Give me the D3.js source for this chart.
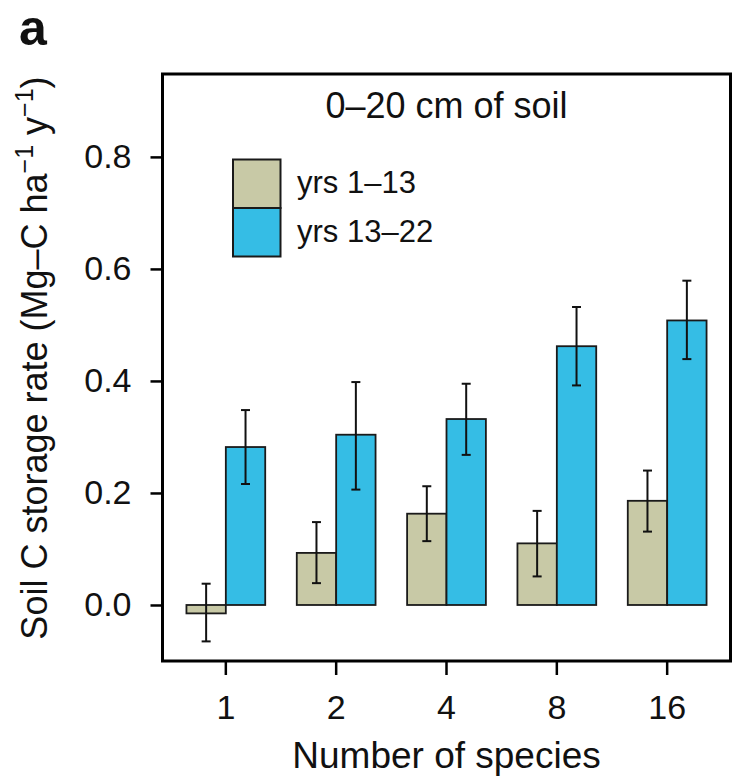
<!DOCTYPE html>
<html>
<head>
<meta charset="utf-8">
<script src="https://cdn.jsdelivr.net/npm/d3@7"></script>
<style>
  body { margin: 0; background: #fff; }
  text { font-family: "Liberation Sans", Arial, Helvetica, sans-serif; fill: #111; }
</style>
</head>
<body>
<div id="chart"></div>
<script>

// values (Mg-C ha-1 y-1)
var species = ["1", "2", "4", "8", "16"];
var periods = ["yrs 1–13", "yrs 13–22"];

var early_mean = [-0.015, 0.093, 0.163, 0.110, 0.186];
var early_lo   = [-0.065, 0.039, 0.114, 0.051, 0.131];
var early_hi   = [ 0.038, 0.148, 0.212, 0.168, 0.240];

var late_mean = [0.282, 0.304, 0.332, 0.462, 0.508];
var late_lo   = [0.216, 0.206, 0.268, 0.392, 0.439];
var late_hi   = [0.348, 0.398, 0.395, 0.532, 0.579];

var y_ticks = [0, 0.2, 0.4, 0.6, 0.8];

var colors = ["#c8c9a6", "#35bde5"];

var svg_w = 734, svg_h = 781;
var box = {left: 162.5, right: 730.5, top: 74, bottom: 661};

var svg = d3.select("#chart")
  .append("svg")
    .attr("width", svg_w)
    .attr("height", svg_h);

// scales
var x = d3.scaleBand()
  .domain(species)
  .range([box.left, box.right])
  .paddingInner(0.286)
  .paddingOuter(0.217);

var xs = d3.scaleBand()
  .domain(periods)
  .range([0, x.bandwidth()]);

var y = d3.scaleLinear()
  .domain([-0.1, 0.948])
  .range([box.bottom, box.top]);

// build rows for the bars
var rows = [];
species.forEach(function(s, i) {
  rows.push({sp: s, per: periods[0], m: early_mean[i], lo: early_lo[i], hi: early_hi[i]});
  rows.push({sp: s, per: periods[1], m: late_mean[i], lo: late_lo[i], hi: late_hi[i]});
});

var color = d3.scaleOrdinal().domain(periods).range(colors);

// bars
svg.append("g")
  .selectAll("rect")
  .data(rows)
  .join("rect")
    .attr("x", function(d) { return x(d.sp) + xs(d.per); })
    .attr("width", xs.bandwidth())
    .attr("y", function(d) { return y(Math.max(0, d.m)); })
    .attr("height", function(d) { return Math.abs(y(d.m) - y(0)); })
    .attr("fill", function(d) { return color(d.per); })
    .attr("stroke", "#1a1a1a")
    .attr("stroke-width", 1.8);

// error bars
var cap = 4.5;
var eb = svg.append("g")
  .attr("stroke", "#111")
  .attr("stroke-width", 2)
  .selectAll("g")
  .data(rows)
  .join("g")
    .attr("transform", function(d) { return "translate(" + (x(d.sp) + xs(d.per) + xs.bandwidth()/2) + ",0)"; });

eb.append("line")
  .attr("y1", function(d) { return y(d.lo); })
  .attr("y2", function(d) { return y(d.hi); });
eb.append("line")
  .attr("x1", -cap).attr("x2", cap)
  .attr("y1", function(d) { return y(d.hi); })
  .attr("y2", function(d) { return y(d.hi); });
eb.append("line")
  .attr("x1", -cap).attr("x2", cap)
  .attr("y1", function(d) { return y(d.lo); })
  .attr("y2", function(d) { return y(d.lo); });

// plot frame
svg.append("rect")
  .attr("x", box.left)
  .attr("y", box.top)
  .attr("width", box.right - box.left)
  .attr("height", box.bottom - box.top)
  .attr("fill", "none")
  .attr("stroke", "#000")
  .attr("stroke-width", 3);

// X axis
var xAxis = d3.axisBottom(x).tickSize(14).tickPadding(20).tickSizeOuter(0);
svg.append("g")
  .attr("transform", "translate(0," + box.bottom + ")")
  .call(xAxis)
  .call(function(g) { g.select(".domain").remove(); })
  .call(function(g) {
    g.selectAll("line").attr("stroke", "#000").attr("stroke-width", 2.5);
    g.selectAll("text").style("font-size", "34px").attr("fill", "#111")
      .style("font-family", "'Liberation Sans', Arial, sans-serif");
  });

// Y axis
var yAxis = d3.axisLeft(y).tickValues(y_ticks).tickFormat(d3.format(".1f"))
  .tickSize(12).tickPadding(19).tickSizeOuter(0);
svg.append("g")
  .attr("transform", "translate(" + box.left + ",0)")
  .call(yAxis)
  .call(function(g) { g.select(".domain").remove(); })
  .call(function(g) {
    g.selectAll("line").attr("stroke", "#000").attr("stroke-width", 2.5);
    g.selectAll("text").style("font-size", "34px").attr("fill", "#111")
      .style("font-family", "'Liberation Sans', Arial, sans-serif");
  });

// panel title inside the frame
svg.append("text")
  .attr("x", (box.left + box.right)/2)
  .attr("y", 118)
  .style("text-anchor", "middle")
  .style("font-size", "36px")
  .text("0–20 cm of soil");

// legend
var leg = svg.append("g");
periods.forEach(function(p, i) {
  leg.append("rect")
    .attr("x", 233)
    .attr("y", 159.5 + i*48.5)
    .attr("width", 47.5)
    .attr("height", 48.5)
    .attr("fill", colors[i])
    .attr("stroke", "#1a1a1a")
    .attr("stroke-width", 2);
  leg.append("text")
    .attr("x", 297)
    .attr("y", 193 + i*48.5)
    .style("font-size", "31px")
    .text(p);
});

// x label
svg.append("text")
  .attr("x", (box.left + box.right)/2)
  .attr("y", 768)
  .style("text-anchor", "middle")
  .style("font-size", "37px")
  .text("Number of species");

// y label, with superscripts
var ylab = svg.append("text")
  .attr("transform", "translate(47," + 358 + ") rotate(-90)")
  .style("text-anchor", "middle")
  .style("font-size", "36px");
ylab.append("tspan").text("Soil C storage rate (Mg–C ha");
ylab.append("tspan").attr("dy", -14).style("font-size", "25px").text("−1");
ylab.append("tspan").attr("dy", 14).text(" y");
ylab.append("tspan").attr("dy", -14).style("font-size", "25px").text("−1");
ylab.append("tspan").attr("dy", 14).text(")");

// panel letter
svg.append("text")
  .attr("x", 19)
  .attr("y", 45)
  .style("font-size", "50px")
  .style("font-weight", "bold")
  .text("a");

</script>
</body>
</html>
